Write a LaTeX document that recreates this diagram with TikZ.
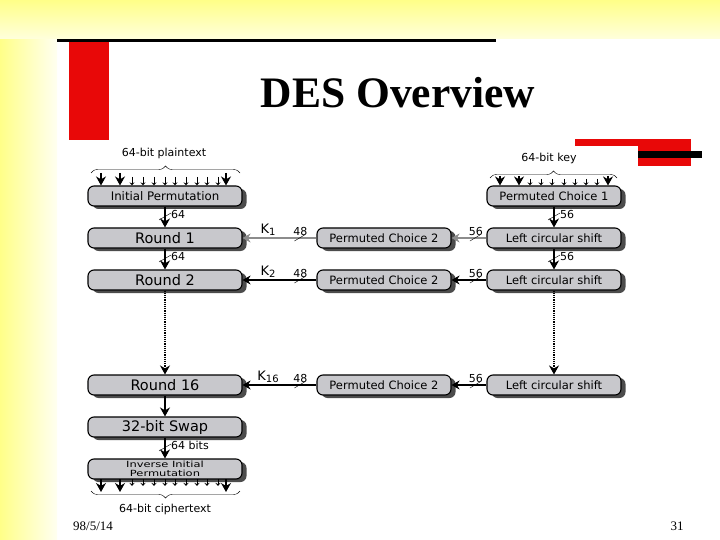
\documentclass[tikz,border=0pt]{standalone}
\usepackage{fontspec}
\setmainfont{DejaVu Sans}
\newfontfamily\titlefont{Liberation Serif}
\usetikzlibrary{arrows.meta,shadows,decorations.pathreplacing}
\definecolor{slideyellow}{HTML}{FFFF88}
\definecolor{slidepale}{HTML}{FFFFDC}
\definecolor{slidered}{HTML}{E80808}
\definecolor{boxgray}{HTML}{C8C8CC}
\tikzset{
    unitbox/.style={draw=black,line width=1.1pt,fill=boxgray,rounded corners=6pt,minimum height=20pt,inner sep=0pt,
        drop shadow={shadow xshift=4.5pt,shadow yshift=-3pt,fill=black!70,opacity=1}},
    wide/.style={unitbox,minimum width=154pt,font=\fontsize{14.5}{15}\selectfont},
    mid/.style={unitbox,minimum width=134pt,font=\fontsize{11.5}{12}\selectfont},
    flow/.style={line width=1.2pt,-{Stealth[length=9pt,width=10pt]}},
    tiny/.style={semithick,-{Stealth[length=3pt,width=5pt,open]}},
    keyline/.style={line width=1.1pt,-{Stealth[length=8pt,width=9pt]}},
    tag/.style={font=\fontsize{11}{11}\selectfont,inner sep=0pt},
}
\begin{document}
\begin{tikzpicture}[x=1pt,y=-1pt]
    \useasboundingbox (0,0) rectangle (720,540);
    \fill[white] (0,0) rectangle (720,540);
    \shade[left color=slideyellow,right color=slidepale!40!white] (0,0) rectangle (57,540);
    \shade[top color=slideyellow,bottom color=slidepale] (0,0) rectangle (720,39);
    \fill[black] (57,39) rectangle (496,42);
    \fill[slidered] (69,42) rectangle (109,140);
    \fill[slidered] (575,139) rectangle (691,146);
    \fill[slidered] (638,146) rectangle (691,166);
    \fill[black] (638,151) rectangle (702,158);
    \node (title) at (398,93) {\titlefont\bfseries\fontsize{43.5}{44}\selectfont DES Overview};
    \node[inner sep=0pt] (date) at (93,526) {\titlefont\fontsize{13}{13}\selectfont 98/5/14};
    \node[inner sep=0pt] (page) at (677,526) {\titlefont\fontsize{13}{13}\selectfont 31};

    \node[wide,font=\fontsize{11.8}{12}\selectfont] (ip) at (165,196) {Initial Permutation};
    \node[wide] (round1) at (165,238) {Round 1};
    \node[wide] (round2) at (165,280) {Round 2};
    \node[wide] (round16) at (165,385) {Round 16};
    \node[wide] (swap) at (165,427) {32-bit Swap};
    \node[wide,font=\fontsize{8.5}{9.5}\selectfont,align=center] (iip) at (165,469) {\scalebox{1.35}[1]{Inverse Initial}\\\scalebox{1.35}[1]{Permutation}};

    \node[mid] (pc1) at (554,196) {Permuted Choice 1};
    \foreach \row/\ypos in {1/238, 2/280, 16/385} {
        \node[mid] (choice\row) at (384,\ypos) {Permuted Choice 2};
        \node[mid] (shift\row) at (554,\ypos) {Left circular shift};
    }

    \node[tag] (plain) at (164,153) {64-bit plaintext};
    \node[tag] (key) at (549,158) {64-bit key};
    \node[tag] (cipher) at (165,509) {64-bit ciphertext};

    \coordinate (pb1) at (91,173);
    \coordinate (pb2) at (240,173);
    \coordinate (kb1) at (490,178);
    \coordinate (kb2) at (617,178);
    \coordinate (cb1) at (240,491);
    \coordinate (cb2) at (91,491);
    \draw[decorate,decoration={brace,amplitude=7pt}] (pb1) -- (pb2);
    \draw[decorate,decoration={brace,amplitude=7pt}] (kb1) -- (kb2);
    \draw[decorate,decoration={brace,amplitude=7pt}] (cb1) -- (cb2);

    \foreach \position in {101,120,226} {
        \coordinate (in\position) at (\position,173);
        \draw[flow] (in\position) -- (in\position |- ip.north);
        \coordinate (out\position) at (\position,479);
        \draw[flow] (out\position) -- (\position,492);
    }
    \foreach \position in {132,143,154,165,175,186,197,207,218} {
        \coordinate (in\position) at (\position,177);
        \draw[tiny] (in\position) -- (in\position |- ip.north);
        \coordinate (out\position) at (\position,479);
        \draw[tiny] (out\position) -- (\position,486);
    }
    \foreach \position in {500,519,608} {
        \coordinate (kin\position) at (\position,176);
        \draw[flow] (kin\position) -- (kin\position |- pc1.north);
    }
    \foreach \position in {530,541,552,564,575,586,597} {
        \coordinate (kin\position) at (\position,179);
        \draw[tiny] (kin\position) -- (kin\position |- pc1.north);
    }

    \draw[flow] (ip) -- coordinate (m1) (round1);
    \draw[flow] (round1) -- coordinate (m2) (round2);
    \draw[flow,densely dotted] (round2) -- (round16);
    \draw[flow] (round16) -- (swap);
    \draw[flow] (swap) -- coordinate (m3) (iip);
    \draw[flow] (pc1) -- coordinate (m4) (shift1);
    \draw[flow] (shift1) -- coordinate (m5) (shift2);
    \draw[flow,densely dotted] (shift2) -- (shift16);

    \draw[keyline,black!45] (choice1) -- coordinate[pos=.23] (n1) (round1);
    \draw[keyline,black!45] (shift1) -- coordinate[pos=.33] (s1) (choice1);
    \draw[keyline] (choice2) -- coordinate[pos=.23] (n2) (round2);
    \draw[keyline] (shift2) -- coordinate[pos=.33] (s2) (choice2);
    \draw[keyline] (choice16) -- coordinate[pos=.23] (n16) (round16);
    \draw[keyline] (shift16) -- coordinate[pos=.33] (s16) (choice16);

    \foreach \mark in {m1,m2,m3,m4,m5} {
        \draw ([shift={(-6,3)}]\mark) -- ([shift={(6,-4)}]\mark);
    }
    \foreach \mark in {n1,n2,n16,s1,s2,s16} {
        \draw ([shift={(-5,3)}]\mark) -- ([shift={(5,-3)}]\mark);
    }

    \foreach \mark/\text in {m1/64, m2/64, m4/56, m5/56} {
        \node[tag,anchor=west] (l\mark) at ([shift={(6,-3)}]\mark) {\text};
    }
    \node[tag,anchor=west] (lm3) at ([shift={(6,-3)}]m3) {64 bits};
    \foreach \mark/\text in {n1/48, n2/48, n16/48, s1/56, s2/56, s16/56} {
        \node[tag] (l\mark) at ([shift={(1,-7)}]\mark) {\text};
    }
    \foreach \row/\ypos in {1/230, 2/272, 16/377} {
        \node[inner sep=0pt,font=\fontsize{13}{13}\selectfont] (k\row) at (268,\ypos) {K\raisebox{-2pt}{\fontsize{10}{10}\selectfont\row}};
    }
\end{tikzpicture}
\end{document}
